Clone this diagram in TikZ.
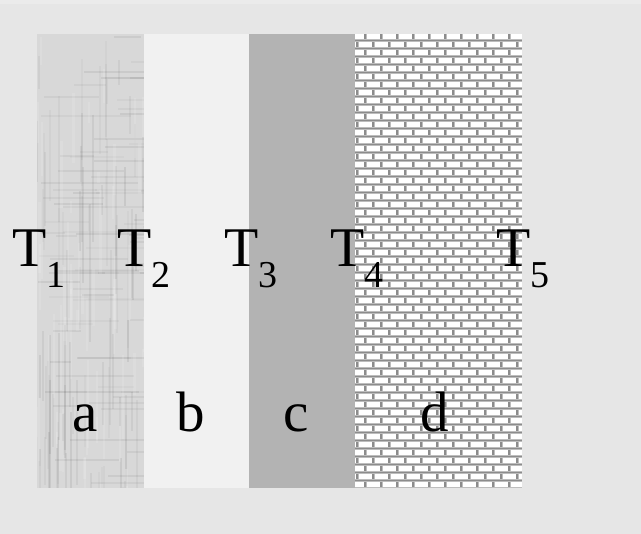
\documentclass[tikz,border=0pt]{standalone}
\usepackage{fontspec}
\setmainfont{Liberation Serif}
\definecolor{bg}{HTML}{E6E6E6}
\definecolor{bgtop}{HTML}{EBEBEB}
\definecolor{layA}{HTML}{D8D8D8}
\definecolor{layB}{HTML}{F1F1F1}
\definecolor{layC}{HTML}{B3B3B3}
\definecolor{mortarL}{HTML}{BDBDBD}
\definecolor{mortarD}{HTML}{8C8C8C}
\begin{document}
\begin{tikzpicture}[x=1pt,y=-1pt,
  lbl/.style={anchor=base, inner sep=0pt, font=\fontsize{57}{60}\selectfont},
  tlbl/.style={anchor=base west, inner sep=0pt, font=\fontsize{56}{60}\selectfont}]
\newcommand\subsc[1]{\raisebox{-21pt}{\fontsize{38}{40}\selectfont #1}}
\useasboundingbox (0,0) rectangle (641,534);
\fill[bg] (0,0) rectangle (641,534);
\fill[bgtop] (0,0) rectangle (641,4);
% layer a with soft texture
\fill[layA] (37,34) rectangle (144,488);
\begin{scope}
\clip (37,34) rectangle (144,488);
\pgfmathsetseed{7}
\foreach \n in {1,...,80}{
  \pgfmathsetmacro\xx{37+rnd*107}
  \pgfmathsetmacro\ya{34+rnd*454}
  \pgfmathsetmacro\yl{20+rnd*120}
  \pgfmathsetmacro\op{0.02+0.05*rnd}
  \draw[black, opacity=\op, line width=2] (\xx,\ya) -- (\xx,\ya+\yl);
}
\foreach \n in {1,...,80}{
  \pgfmathsetmacro\yy{34+rnd*454}
  \pgfmathsetmacro\xa{37+rnd*107}
  \pgfmathsetmacro\xl{20+rnd*80}
  \pgfmathsetmacro\op{0.02+0.05*rnd}
  \draw[black, opacity=\op, line width=2] (\xa,\yy) -- (\xa+\xl,\yy);
}
\foreach \n in {1,...,60}{
  \pgfmathsetmacro\xx{37+rnd*107}
  \pgfmathsetmacro\ya{34+rnd*454}
  \pgfmathsetmacro\yl{10+rnd*80}
  \draw[white, opacity=0.12, line width=2.5] (\xx,\ya) -- (\xx,\ya+\yl);
}
\end{scope}
\fill[layB] (144,34) rectangle (249,488);
\fill[layC] (249,34) rectangle (355,488);
% layer d: bricks
\begin{scope}
\clip (355,34) rectangle (522,488);
\fill[white] (355,34) rectangle (522,488);
\foreach \i in {0,...,57}{
  \pgfmathsetmacro\yy{34+8*\i}
  \pgfmathsetmacro\xs{365-8*mod(\i,2)}
  \fill[mortarL] (355,\yy+5) rectangle (522,\yy+8);
  \fill[mortarD] (355,\yy+5.8) rectangle (522,\yy+7);
  \foreach \k in {-1,...,11}{
    \fill[mortarL] (\xs+16*\k-1.5,\yy) rectangle (\xs+16*\k+1.5,\yy+5);
    \fill[mortarD] (\xs+16*\k-0.6,\yy) rectangle (\xs+16*\k+0.6,\yy+5);
  }
}
\end{scope}
% temperature labels
\node[tlbl] (t1) at (12,267) {T\subsc{1}};
\node[tlbl] (t2) at (117,267) {T\subsc{2}};
\node[tlbl] (t3) at (224,267) {T\subsc{3}};
\node[tlbl] (t4) at (330,267) {T\subsc{4}};
\node[tlbl] (t5) at (496,267) {T\subsc{5}};
% layer labels
\node[lbl] (la) at (85,432) {a};
\node[lbl] (lb) at (191,432) {b};
\node[lbl] (lc) at (296,432) {c};
\node[lbl] (ld) at (435,432) {d};
\end{tikzpicture}
\end{document}
